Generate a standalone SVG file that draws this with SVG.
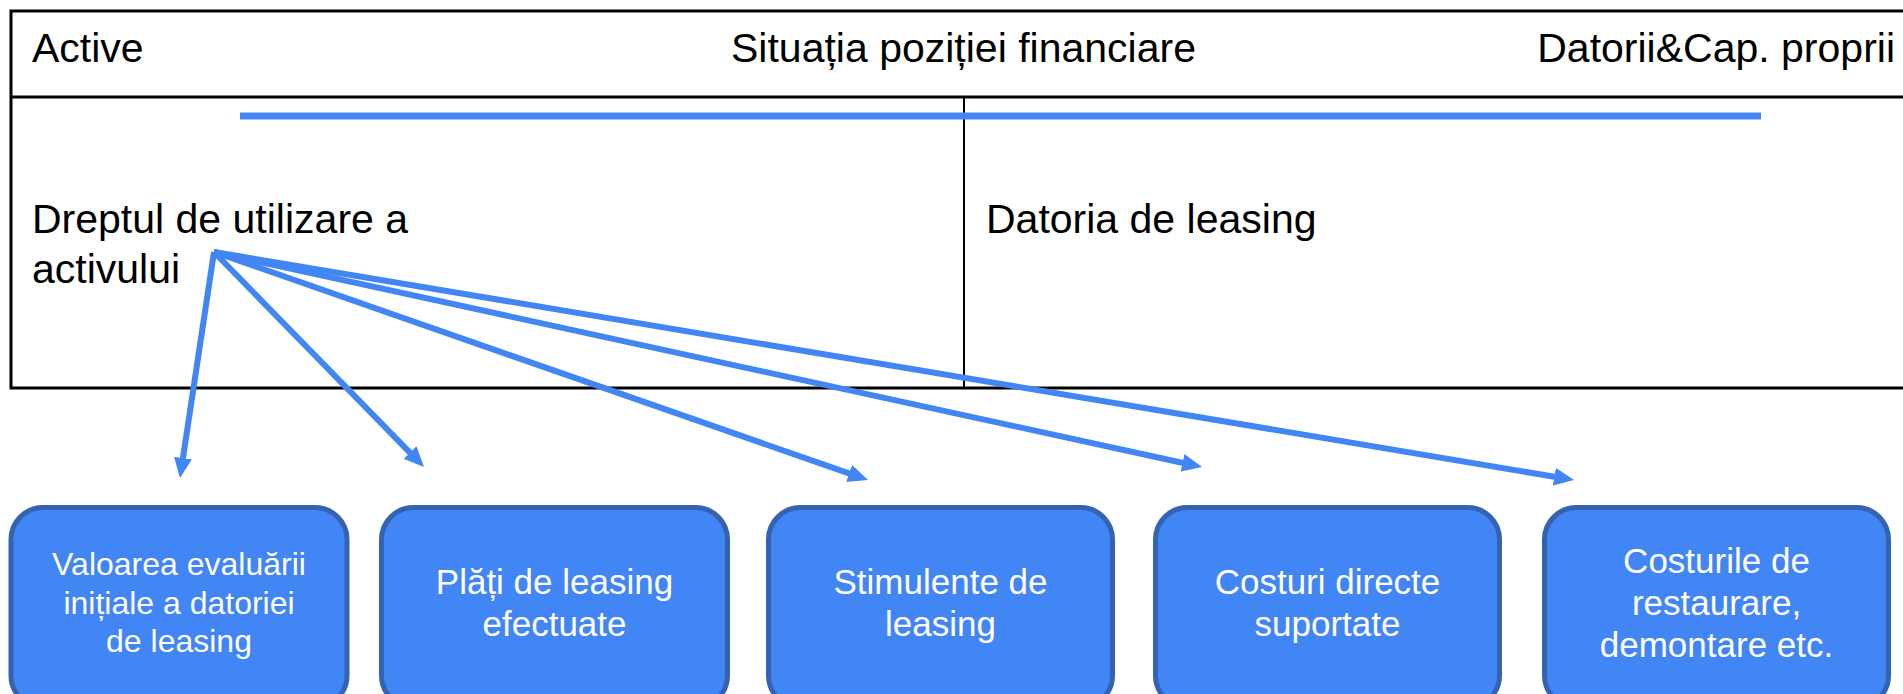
<svg xmlns="http://www.w3.org/2000/svg" width="1903" height="694" viewBox="0 0 1903 694">
<style>
.t{font-family:"Liberation Sans",Arial,sans-serif;fill:#000;font-size:41px}
.bx{fill:#4285F4;stroke:#3563B3;stroke-width:5}
.bt{font-family:"Liberation Sans",Arial,sans-serif;fill:#fff;font-size:35px;text-anchor:middle}
.ln{stroke:#4285F4;stroke-width:6;fill:none;marker-end:url(#ah)}
</style>
<defs>
<marker id="ah" markerUnits="userSpaceOnUse" markerWidth="20" markerHeight="18" refX="9" refY="9" orient="auto">
<path d="M0,0 L20,9 L0,18 z" fill="#4285F4"/>
</marker>
</defs>
<rect width="1903" height="694" fill="#fff"/>
<g id="table">
<path d="M1903,11 H11 V388 H1903" fill="none" stroke="#000" stroke-width="3"/>
<line x1="11" y1="97" x2="1903" y2="97" stroke="#000" stroke-width="3"/>
<line x1="964" y1="97" x2="964" y2="388" stroke="#000" stroke-width="2"/>
<line x1="240" y1="116" x2="1761" y2="116" stroke="#4285F4" stroke-width="7"/>
<text class="t" x="32" y="62">Active</text>
<text class="t" x="731" y="62">Situația poziției financiare</text>
<text class="t" x="1895" y="62" text-anchor="end">Datorii&amp;Cap. proprii</text>
</g>
<g id="asset">
<text class="t" x="32" y="233">Dreptul de utilizare a</text>
<text class="t" x="32" y="283">activului</text>
</g>
<g id="liability">
<text class="t" x="986" y="233">Datoria de leasing</text>
</g>
<g id="connectors">
<line class="ln" x1="214" y1="252" x2="181.6" y2="467"/>
<line class="ln" x1="214" y1="252" x2="416.3" y2="459.1"/>
<line class="ln" x1="214" y1="252" x2="857.6" y2="476.4"/>
<line class="ln" x1="214" y1="252" x2="1191.3" y2="464.7"/>
<line class="ln" x1="214" y1="252" x2="1563.2" y2="478.2"/>
</g>
<g id="box1">
<rect class="bx" x="11" y="507.5" width="336" height="200" rx="32"/>
<text class="bt" style="font-size:32px" x="179" y="575">Valoarea evaluării</text>
<text class="bt" style="font-size:32px" x="179" y="614">inițiale a datoriei</text>
<text class="bt" style="font-size:32px" x="179" y="652">de leasing</text>
</g>
<g id="box2">
<rect class="bx" x="381.5" y="507.5" width="346" height="200" rx="32"/>
<text class="bt" x="554.5" y="594">Plăți de leasing</text>
<text class="bt" x="554.5" y="636">efectuate</text>
</g>
<g id="box3">
<rect class="bx" x="768.5" y="507.5" width="344" height="200" rx="32"/>
<text class="bt" x="940.5" y="594">Stimulente de</text>
<text class="bt" x="940.5" y="636">leasing</text>
</g>
<g id="box4">
<rect class="bx" x="1155.5" y="507.5" width="344" height="200" rx="32"/>
<text class="bt" x="1327.5" y="594">Costuri directe</text>
<text class="bt" x="1327.5" y="636">suportate</text>
</g>
<g id="box5">
<rect class="bx" x="1544.5" y="507.5" width="344" height="200" rx="32"/>
<text class="bt" x="1716.5" y="573">Costurile de</text>
<text class="bt" x="1716.5" y="615">restaurare,</text>
<text class="bt" x="1716.5" y="657">demontare etc.</text>
</g>
</svg>
